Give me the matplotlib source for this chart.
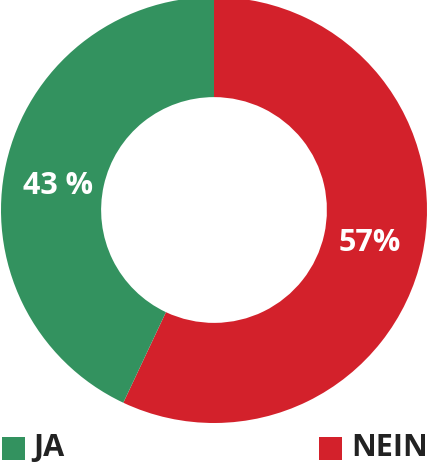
import matplotlib
matplotlib.use("Agg")
import matplotlib.pyplot as plt
from matplotlib.patches import Rectangle
import numpy as np

categories = ["NEIN", "JA"]
values = [57, 43]
labels = ["57%", "43 %"]
colors = ["#d3212b", "#33925f"]

W, H = 428, 462
fig = plt.figure(figsize=(W/100, H/100), dpi=100)
cx, cy, R = 214, 210, 213
ax = fig.add_axes([(cx-R)/W, (H-cy-R)/H, 2*R/W, 2*R/H])
wedges, _ = ax.pie(values, colors=colors, startangle=90, counterclock=False,
                   radius=1, wedgeprops=dict(width=0.47, linewidth=0))
ax.set_xlim(-1, 1); ax.set_ylim(-1, 1); ax.set_aspect("equal"); ax.axis("off")

for w, lab in zip(wedges, labels):
    ang = np.deg2rad((w.theta1 + w.theta2) / 2)
    r = 0.75
    x = r*np.cos(ang)
    y = 0.135*np.sign(np.sin(ang)) - 0.02
    ax.text(x, y, lab, color="white",
            fontsize=22, fontweight="bold", family="Open Sans",
            ha="center", va="center")

# legend
sq = 23
leg_y = 437
items = [("JA", colors[1], 2, 33), ("NEIN", colors[0], 319, 351)]
for name, col, sx, tx in items:
    fig.patches.append(Rectangle((sx/W, (H-leg_y-sq)/H), sq/W, sq/H,
                                 transform=fig.transFigure, color=col, linewidth=0))
    fig.text(tx/W, (H-leg_y-sq/2)/H, name, fontsize=22, fontweight="bold",
             family="Open Sans", color="#222222", va="center", ha="left")

fig.savefig("out.png", dpi=100)
